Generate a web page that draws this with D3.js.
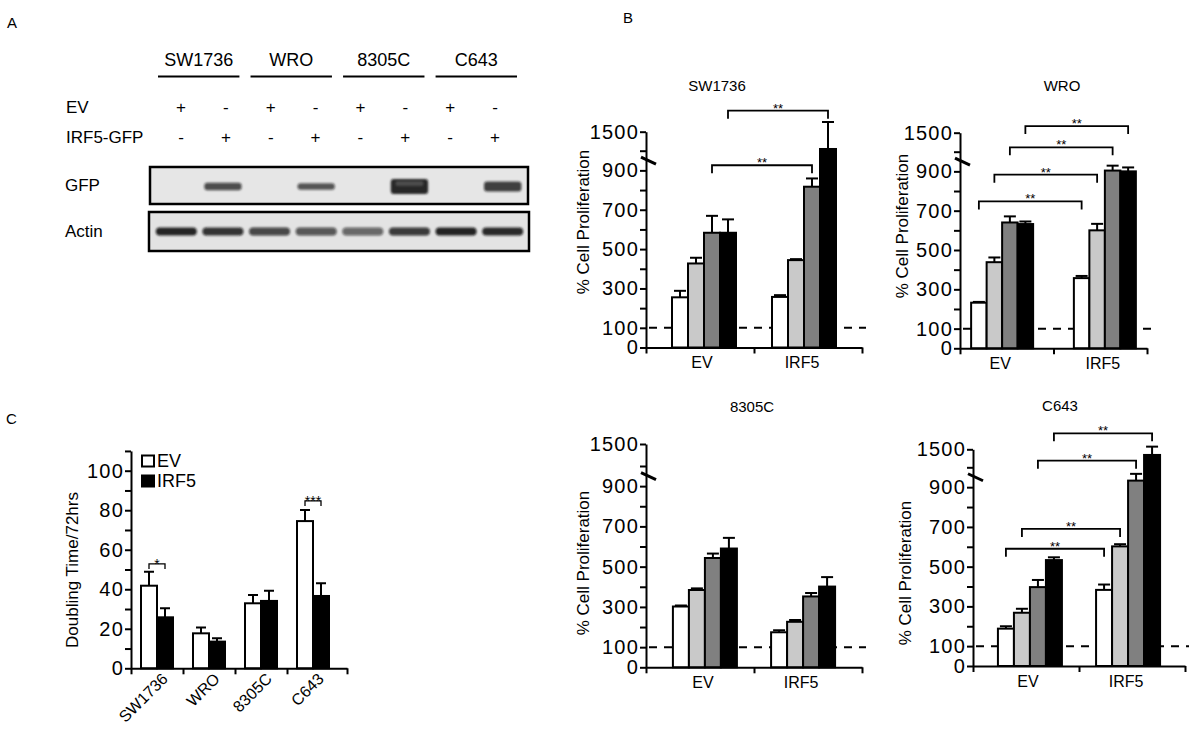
<!DOCTYPE html>
<html><head><meta charset="utf-8">
<script src="https://cdn.jsdelivr.net/npm/d3@7"></script>
<style>
html,body{margin:0;padding:0;background:#fff;}
svg{display:block;font-family:"Liberation Sans",Arial,sans-serif;}
</style></head><body>
<svg id="fig" width="1200" height="734"></svg>
<script>
// ================= DATA =================
// Panel A (western blot)
const blotCellLines = ["SW1736","WRO","8305C","C643"];
const blotLanes = ["SW1736 EV","SW1736 IRF5","WRO EV","WRO IRF5","8305C EV","8305C IRF5","C643 EV","C643 IRF5"];
const evRow = ["+","-","+","-","+","-","+","-"];
const irf5GfpRow = ["-","+","-","+","-","+","-","+"];
const blotRowLabels = ["EV","IRF5-GFP"];
const gfpSignal = [0,0.78,0,0.74,0,1,0,0.85];
const actinSignal = [0.97,0.9,0.8,0.72,0.64,0.86,0.98,0.95];

// Panel B (% cell proliferation)
const prolifGroups = ["EV","IRF5"];
const prolifSeries = ["s1","s2","s3","s4"];
const prolifTitles = ["SW1736","WRO","8305C","C643"];
const prolifTickLabels = [0,100,300,500,700,900,1500];
const prolifMinorTicks = [200,400,600,800,1000];
const prolifYLabel = "% Cell Proliferation";
const baselineValue = 100;
const sw1736Mean = [[255,427,583,583],[257,444,817,1045]];
const sw1736Err  = [[33,29,86,68],[9,5,42,710]];
const wroMean    = [[232,438,640,632],[357,600,904,900]];
const wroErr     = [[4,24,31,13],[11,33,25,20]];
const c8305Mean  = [[302,384,543,590],[174,226,352,401]];
const c8305Err   = [[5,8,22,53],[10,9,17,47]];
const c643Mean   = [[188,268,397,533],[383,602,933,1343]];
const c643Err    = [[12,20,36,14],[27,11,34,231]];
// brackets: [series index, level (% units), label]
const sw1736Sig = [[2,926,"**"],[3,2053,"**"]];
const wroSig    = [[0,747,"**"],[1,883,"**"],[2,1114,"**"],[3,1675,"**"]];
const c8305Sig  = [];
const c643Sig   = [[0,590,"**"],[1,690,"**"],[2,1185,"**"],[3,1944,"**"]];

// Panel C (doubling time)
const dtLines = ["SW1736","WRO","8305C","C643"];
const dtSeries = ["EV","IRF5"];
const dtEV = [41.8,17.7,32.9,74.5];
const dtEVErr = [7.1,2.9,4.2,5.6];
const dtIRF5 = [25.8,13.5,34.1,36.6];
const dtIRF5Err = [4.6,1.7,5.2,6.4];
const dtTickLabels = [0,20,40,60,80,100];
const dtMinorTicks = [10,30,50,70,90,110];
const dtSig = [["SW1736","*",52.8],["C643","***",84.7]];
const dtYLabel = "Doubling Time/72hrs";

// ================= DRAW =================
const svg = d3.select("#fig");
const defs = svg.append("defs");
defs.append("filter").attr("id","blur").attr("x","-20%").attr("y","-60%").attr("width","140%").attr("height","220%")
  .append("feGaussianBlur").attr("stdDeviation",1.2);

function panelLetter(t,x,y){
  svg.append("text").attr("x",x).attr("y",y).attr("font-size",15).attr("dominant-baseline","central").text(t);
}
panelLetter("A",7,22); panelLetter("B",623,17); panelLetter("C",6,418);

// ---------- Panel A ----------
(function(){
  const g = svg.append("g");
  const cl = d3.scaleBand().domain(blotCellLines).range([158,517]).paddingInner(0.12);
  g.selectAll("text.cl").data(blotCellLines).join("text")
    .attr("x",d=>cl(d)+cl.bandwidth()/2).attr("y",60).attr("text-anchor","middle")
    .attr("dominant-baseline","central").attr("font-size",18).text(d=>d);
  g.selectAll("line.ul").data(blotCellLines).join("line")
    .attr("x1",d=>cl(d)).attr("x2",d=>cl(d)+cl.bandwidth()).attr("y1",76.5).attr("y2",76.5)
    .attr("stroke","#000").attr("stroke-width",2);

  const signX = d3.scalePoint().domain(blotLanes).range([181,495]);
  const rowY = d3.scalePoint().domain(blotRowLabels).range([107,137]);
  [evRow, irf5GfpRow].forEach((row,i)=>{
    g.selectAll(null).data(row).join("text")
      .attr("x",(d,j)=>signX(blotLanes[j])).attr("y",rowY(blotRowLabels[i]))
      .attr("text-anchor","middle").attr("dominant-baseline","central").attr("font-size",17).text(d=>d);
    g.append("text").attr("x",66).attr("y",rowY(blotRowLabels[i])).attr("dominant-baseline","central")
      .attr("font-size",17).text(blotRowLabels[i]);
  });
  g.append("text").attr("x",65).attr("y",185).attr("dominant-baseline","central").attr("font-size",17).text("GFP");
  g.append("text").attr("x",65).attr("y",231).attr("dominant-baseline","central").attr("font-size",17).text("Actin");

  const lane = d3.scaleBand().domain(blotLanes).range([153,526]);
  // GFP blot
  g.append("rect").attr("x",150).attr("y",167).attr("width",378).attr("height",37).attr("fill","#e6e6e6");
  const thick = d3.scaleLinear().domain([0.7,1]).range([5,15]);
  const gfpLanes = blotLanes.map((l,i)=>({lane:l,s:gfpSignal[i]})).filter(d=>d.s>0);
  g.selectAll("rect.gfp").data(gfpLanes).join("rect")
    .attr("x",d=>lane(d.lane)+lane.bandwidth()*0.1).attr("width",lane.bandwidth()*0.8)
    .attr("y",d=>186.5-thick(d.s)/2).attr("height",d=>thick(d.s)).attr("rx",3)
    .attr("fill","#151515").attr("fill-opacity",d=>d.s*0.92).attr("filter","url(#blur)");
  // lighter (saturated) core on the strongest band
  g.selectAll("rect.core").data(gfpLanes.filter(d=>d.s>=1)).join("rect")
    .attr("x",d=>lane(d.lane)+lane.bandwidth()*0.2).attr("width",lane.bandwidth()*0.6)
    .attr("y",181).attr("height",5).attr("rx",2)
    .attr("fill","#666").attr("fill-opacity",0.6).attr("filter","url(#blur)");
  g.append("rect").attr("x",150).attr("y",167).attr("width",378).attr("height",37)
    .attr("fill","none").attr("stroke","#000").attr("stroke-width",2.5);
  // Actin blot
  g.append("rect").attr("x",149).attr("y",212).attr("width",380).attr("height",39).attr("fill","#e3e3e3");
  g.selectAll("rect.act").data(actinSignal).join("rect")
    .attr("x",(d,i)=>lane(blotLanes[i])+lane.bandwidth()*0.06).attr("width",lane.bandwidth()*0.88)
    .attr("y",227.5).attr("height",8).attr("rx",4)
    .attr("fill","#111").attr("fill-opacity",d=>d*0.92).attr("filter","url(#blur)");
  g.append("rect").attr("x",149).attr("y",212).attr("width",380).attr("height",39)
    .attr("fill","none").attr("stroke","#000").attr("stroke-width",2.5);
})();

// ---------- Panel B ----------
const barFill = ["#ffffff","#c9c9c9","#808080","#000000"];
const prolifLayout = [
  {x0:646,x1:862,pad:0.58,bw:16,y0:347.5,y1000:150.7,y1500:131.7,tx:717,ty:85,lx:583,ly:222},
  {x0:960,x1:1147,pad:0.41,bw:15.5,y0:348.3,y1000:151.7,y1500:132.7,tx:1062,ty:85,lx:902,ly:226},
  {x0:646,x1:862,pad:0.6,bw:16,y0:667.3,y1000:466,y1500:444,tx:752,ty:406,lx:583,ly:563},
  {x0:973,x1:1185,pad:0.58,bw:16,y0:666,y1000:467.3,y1500:449.3,tx:1060,ty:405,lx:905,ly:573}
];
const prolifMeans = [sw1736Mean, wroMean, c8305Mean, c643Mean];
const prolifErrs = [sw1736Err, wroErr, c8305Err, c643Err];
const prolifSigs = [sw1736Sig, wroSig, c8305Sig, c643Sig];

prolifTitles.forEach((title,pi)=>{
  const L = prolifLayout[pi], means = prolifMeans[pi], errs = prolifErrs[pi], sig = prolifSigs[pi];
  const g = svg.append("g");
  const y = d3.scaleLinear().domain([0,1000,1500]).range([L.y0,L.y1000,L.y1500]);
  const x = d3.scalePoint().domain(prolifGroups).range([L.x0,L.x1]).padding(L.pad);
  const xs = d3.scaleBand().domain(prolifSeries).range([-2*L.bw,2*L.bw]);

  g.append("text").attr("x",L.tx).attr("y",L.ty).attr("text-anchor","middle").attr("dominant-baseline","central")
    .attr("font-size",15).text(title);

  // baseline dashed
  g.append("line").attr("x1",L.x0+3).attr("x2",L.x1+4).attr("y1",y(baselineValue)).attr("y2",y(baselineValue))
    .attr("stroke","#000").attr("stroke-width",2).attr("stroke-dasharray","8,7");

  // bars
  prolifGroups.forEach((grp,gi)=>{
    const gg = g.append("g").attr("transform",`translate(${x(grp)},0)`);
    gg.selectAll("rect").data(means[gi]).join("rect")
      .attr("x",(d,i)=>xs(prolifSeries[i])).attr("width",xs.bandwidth())
      .attr("y",d=>y(d)).attr("height",d=>y(0)-y(d))
      .attr("fill",(d,i)=>barFill[i]).attr("stroke","#000").attr("stroke-width",2);
    gg.selectAll("line.ev").data(means[gi]).join("line")
      .attr("x1",(d,i)=>xs(prolifSeries[i])+xs.bandwidth()/2).attr("x2",(d,i)=>xs(prolifSeries[i])+xs.bandwidth()/2)
      .attr("y1",d=>y(d)).attr("y2",(d,i)=>y(d+errs[gi][i])).attr("stroke","#000").attr("stroke-width",2);
    gg.selectAll("line.cap").data(means[gi]).join("line")
      .attr("x1",(d,i)=>xs(prolifSeries[i])+xs.bandwidth()/2-6).attr("x2",(d,i)=>xs(prolifSeries[i])+xs.bandwidth()/2+6)
      .attr("y1",(d,i)=>y(d+errs[gi][i])).attr("y2",(d,i)=>y(d+errs[gi][i])).attr("stroke","#000").attr("stroke-width",2);
  });

  // significance brackets
  sig.forEach(([si,level,lab])=>{
    const xa = x("EV")+xs(prolifSeries[si])+xs.bandwidth()/2;
    const xb = x("IRF5")+xs(prolifSeries[si])+xs.bandwidth()/2;
    const yl = y(level);
    g.append("path").attr("d",`M${xa},${yl+8}V${yl}H${xb}V${yl+8}`)
      .attr("fill","none").attr("stroke","#000").attr("stroke-width",1.8);
    g.append("text").attr("x",(xa+xb)/2).attr("y",yl+2).attr("text-anchor","middle")
      .attr("font-size",13).text(lab);
  });

  // y axis
  const ya = g.append("g").attr("transform",`translate(${L.x0},0)`)
    .call(d3.axisLeft(y).tickValues(prolifTickLabels.concat(prolifMinorTicks)).tickSize(6).tickSizeOuter(0)
      .tickFormat(d=>prolifTickLabels.includes(d)?d:""));
  ya.select(".domain").attr("stroke-width",2);
  ya.selectAll(".tick line").attr("stroke-width",2);
  ya.selectAll(".tick text").attr("font-size",20).attr("letter-spacing",1.2).attr("x",-7)
    .attr("font-family","Liberation Sans, Arial, sans-serif").attr("fill","#000");
  // axis break mark
  g.append("line").attr("x1",L.x0-5).attr("x2",L.x0+10).attr("y1",y(950)-3.5).attr("y2",y(950)+3.5)
    .attr("stroke","#000").attr("stroke-width",3);

  // x axis
  const mid = (x("EV")+x("IRF5"))/2;
  const xa = g.append("g").attr("transform",`translate(0,${L.y0})`)
    .call(d3.axisBottom(d3.scaleIdentity().domain([L.x0,L.x1])).tickValues([L.x0,mid,L.x1])
      .tickFormat("").tickSize(6).tickSizeOuter(0));
  xa.select(".domain").attr("stroke-width",2);
  xa.selectAll(".tick line").attr("stroke-width",2);
  g.selectAll("text.xl").data(prolifGroups).join("text")
    .attr("x",d=>x(d)-2).attr("y",L.y0+15).attr("text-anchor","middle").attr("dominant-baseline","central")
    .attr("font-size",16).text(d=>d);

  g.append("text").attr("transform",`translate(${L.lx},${L.ly}) rotate(-90)`)
    .attr("text-anchor","middle").attr("dominant-baseline","central").attr("font-size",17).text(prolifYLabel);
});

// ---------- Panel C ----------
(function(){
  const g = svg.append("g");
  const y = d3.scaleLinear().domain([0,100]).range([668.3,470.7]);
  const x = d3.scaleBand().domain(dtLines).range([131,339]);
  const xs = d3.scaleBand().domain(dtSeries).range([-16,16]);
  const vals = [dtEV, dtIRF5], errs = [dtEVErr, dtIRF5Err], fills = ["#fff","#000"];

  dtSeries.forEach((s,si)=>{
    g.selectAll(null).data(vals[si]).join("rect")
      .attr("x",(d,i)=>x(dtLines[i])+x.bandwidth()/2+xs(s)).attr("width",xs.bandwidth())
      .attr("y",d=>y(d)).attr("height",d=>y(0)-y(d))
      .attr("fill",fills[si]).attr("stroke","#000").attr("stroke-width",2);
    g.selectAll(null).data(vals[si]).join("path")
      .attr("d",(d,i)=>{const cx=x(dtLines[i])+x.bandwidth()/2+xs(s)+xs.bandwidth()/2;
        const yt=y(d+errs[si][i]);return `M${cx},${y(d)}V${yt}M${cx-5},${yt}H${cx+5}`;})
      .attr("stroke","#000").attr("stroke-width",2).attr("fill","none");
  });

  dtSig.forEach(([line,lab,level])=>{
    const xa = x(line)+x.bandwidth()/2+xs("EV")+xs.bandwidth()/2;
    const xb = x(line)+x.bandwidth()/2+xs("IRF5")+xs.bandwidth()/2;
    const yl = y(level);
    g.append("path").attr("d",`M${xa},${yl+5}V${yl}H${xb}V${yl+5}`).attr("fill","none")
      .attr("stroke","#000").attr("stroke-width",1.3);
    g.append("text").attr("x",(xa+xb)/2).attr("y",yl+5).attr("text-anchor","middle").attr("font-size",14).text(lab);
  });

  const ya = g.append("g").attr("transform","translate(131,0)")
    .call(d3.axisLeft(y.copy().domain([0,110]).range([668.3,y(110)])).tickValues(dtTickLabels.concat(dtMinorTicks))
      .tickSize(6).tickSizeOuter(0).tickFormat(d=>dtTickLabels.includes(d)?d:""));
  ya.select(".domain").attr("stroke-width",2);
  ya.selectAll(".tick line").attr("stroke-width",2);
  ya.selectAll(".tick text").attr("font-size",20).attr("letter-spacing",1.2).attr("x",-7)
    .attr("font-family","Liberation Sans, Arial, sans-serif").attr("fill","#000");

  const xAxisEnd = 347;
  const xa = g.append("g").attr("transform","translate(0,668.3)")
    .call(d3.axisBottom(d3.scaleIdentity().domain([131,xAxisEnd]))
      .tickValues(dtLines.slice(1).map(d=>x(d)).concat([131,xAxisEnd])).tickFormat("").tickSize(6).tickSizeOuter(0));
  xa.select(".domain").attr("stroke-width",2);
  xa.selectAll(".tick line").attr("stroke-width",2);

  g.selectAll("text.xl").data(dtLines).join("text")
    .attr("transform",d=>`translate(${x(d)+x.bandwidth()/2+8},${676}) rotate(-45)`)
    .attr("text-anchor","end").attr("dominant-baseline","central").attr("font-size",16).text(d=>d);

  g.append("text").attr("transform","translate(72,570) rotate(-90)").attr("text-anchor","middle")
    .attr("dominant-baseline","central").attr("font-size",17).text(dtYLabel);

  // legend
  const leg = d3.scalePoint().domain(dtSeries).range([461,481]);
  dtSeries.forEach((s,si)=>{
    g.append("rect").attr("x",142).attr("y",leg(s)-5.5).attr("width",12).attr("height",11)
      .attr("fill",fills[si]).attr("stroke","#000").attr("stroke-width",2);
    g.append("text").attr("x",157).attr("y",leg(s)).attr("dominant-baseline","central").attr("font-size",18).text(s);
  });
})();
</script>
</body></html>
